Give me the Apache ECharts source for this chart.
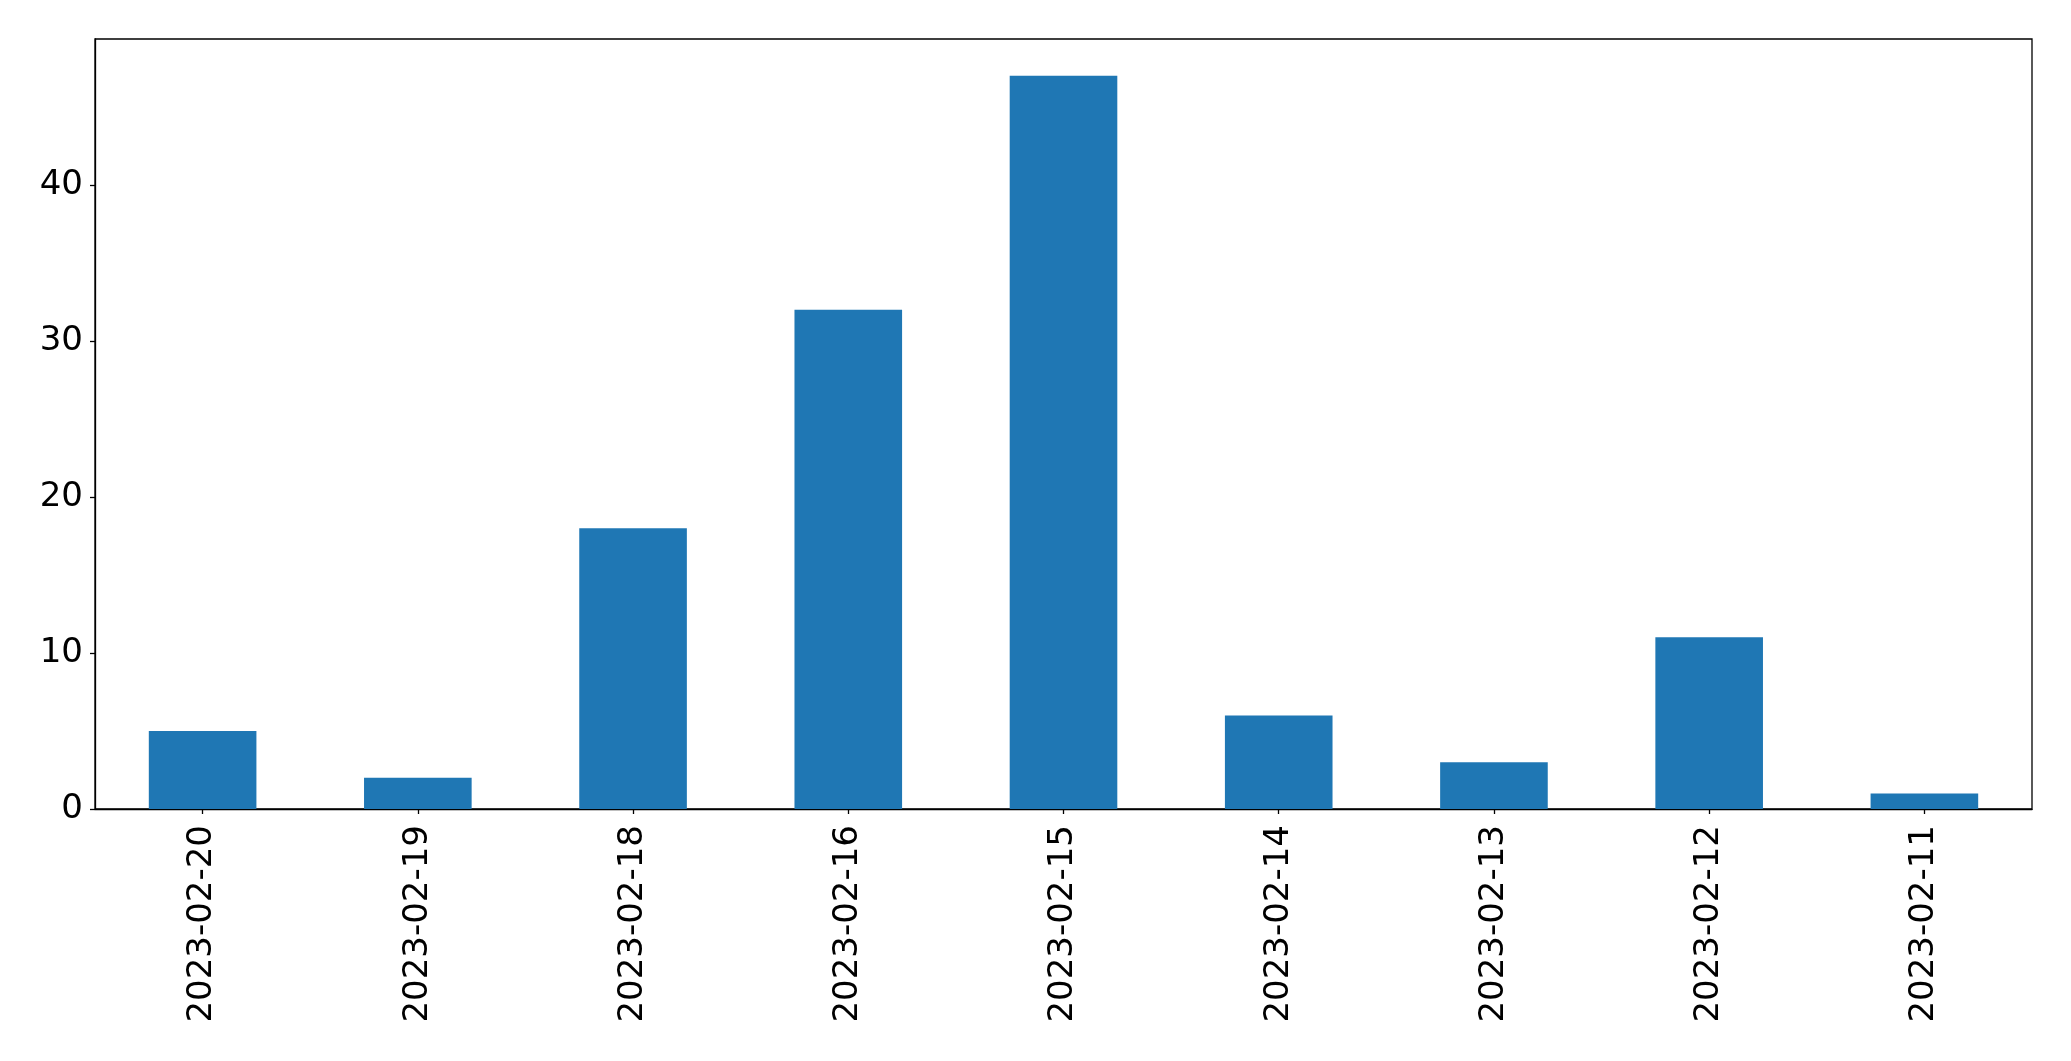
<!DOCTYPE html>
<html>
<head>
<meta charset="utf-8">
<script src="https://cdn.jsdelivr.net/npm/echarts@6/dist/echarts.min.js"></script>
<style>html,body{margin:0;padding:0;background:#fff;}#c{width:2071px;height:1061px;}</style>
</head>
<body>
<div id="c"></div>
<script>
const categories = ['2023-02-20','2023-02-19','2023-02-18','2023-02-16','2023-02-15','2023-02-14','2023-02-13','2023-02-12','2023-02-11'];
const values = [5, 2, 18, 32, 47, 6, 3, 11, 1];
const yTicks = [0, 10, 20, 30, 40];

const chart = echarts.init(document.getElementById('c'), null, {renderer: 'canvas'});
const font = 'DejaVu Sans';
chart.setOption({
  animation: false,
  backgroundColor: '#ffffff',
  grid: {left: 95, top: 39, right: 39, bottom: 252, containLabel: false,
         show: true, borderColor: '#000', borderWidth: 1.3, backgroundColor: 'transparent'},
  xAxis: {
    type: 'category',
    data: categories,
    axisLine: {show: true, lineStyle: {color: '#000', width: 1.3}},
    axisTick: {show: true, alignWithLabel: true, length: 5, lineStyle: {color: '#000', width: 1.3}},
    axisLabel: {rotate: 90, margin: 16, fontSize: 34, color: '#000', fontFamily: font},
    splitLine: {show: false}
  },
  yAxis: {
    type: 'value',
    min: 0,
    max: 49.35,
    interval: 10,
    axisLine: {show: true, lineStyle: {color: '#000', width: 1.3}},
    axisTick: {show: true, length: 5, customValues: yTicks, lineStyle: {color: '#000', width: 1.3}},
    axisLabel: {margin: 12, fontSize: 34, color: '#000', fontFamily: font, customValues: yTicks},
    splitLine: {show: false}
  },
  series: [{
    type: 'bar',
    data: values,
    barCategoryGap: '50%',
    itemStyle: {color: '#1f77b4'}
  }]
});
</script>
</body>
</html>
